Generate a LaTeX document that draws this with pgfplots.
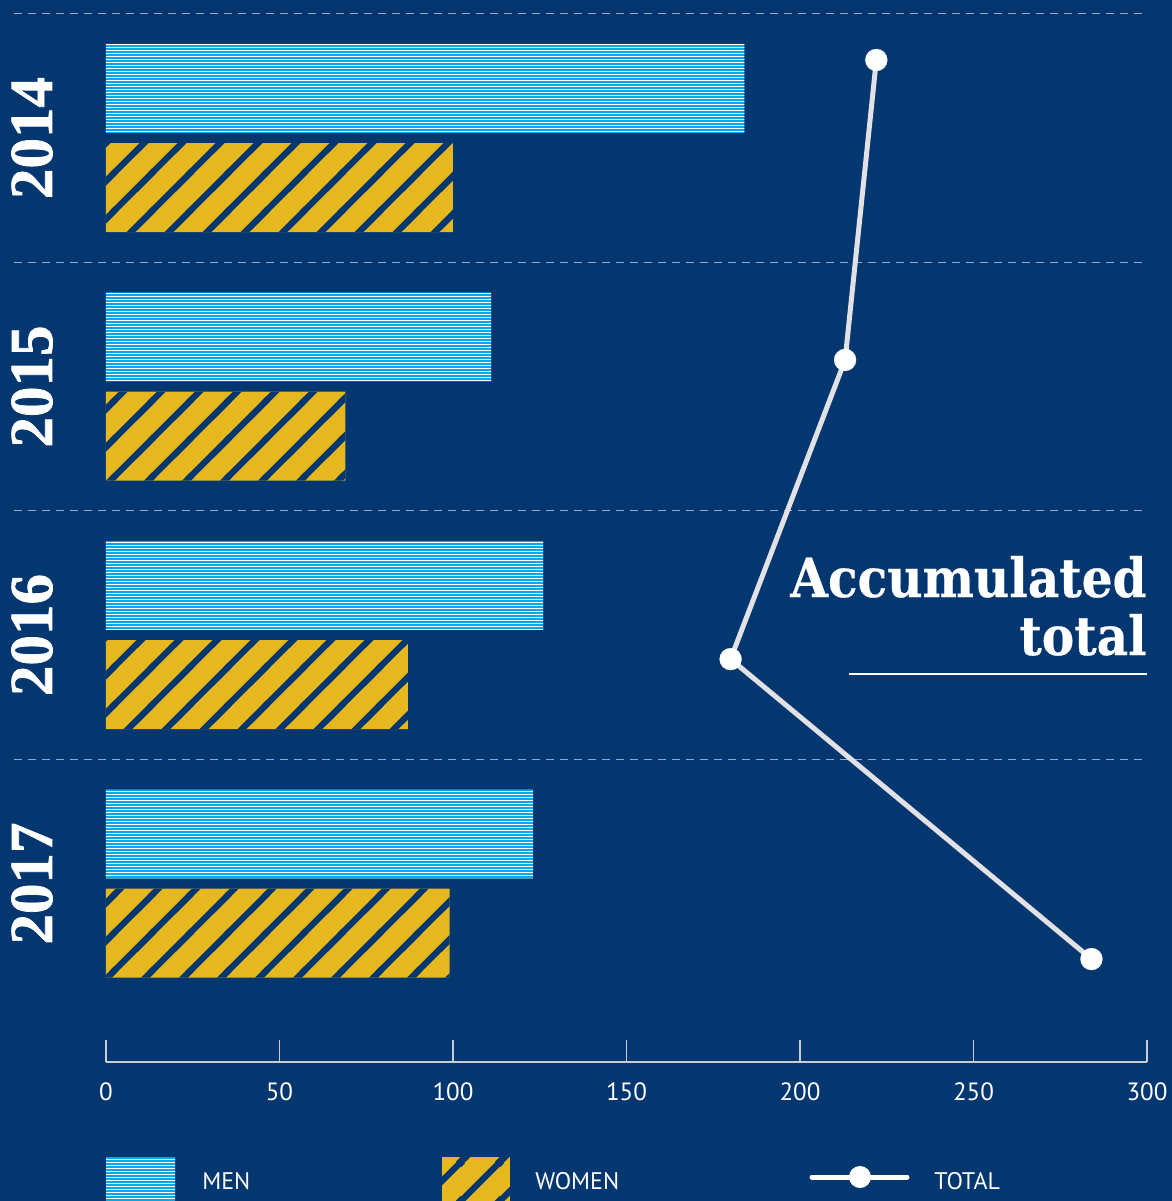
\documentclass[border=0pt]{standalone}
\usepackage{pgfplots}
\pgfplotsset{compat=1.18}
\usepackage{fontspec}
\setmainfont{PT Sans}
\newfontfamily\yearfont{Liberation Serif}[BoldFeatures={FakeBold=1.2}]
\newfontfamily\headfont{DejaVu Serif}[FakeStretch=0.9,BoldFeatures={FakeBold=0.4}]
\usetikzlibrary{patterns}

\definecolor{bgnavy}{RGB}{4,54,111}
\definecolor{mencyan}{RGB}{0,170,235}
\definecolor{womyellow}{RGB}{230,184,32}
\definecolor{linegray}{RGB}{226,226,230}
\definecolor{dashgray}{RGB}{150,170,200}
\definecolor{axisgray}{RGB}{200,205,215}

\pgfdeclarepatternformonly{menlines}{\pgfqpoint{0pt}{0pt}}{\pgfqpoint{2pt}{1.66pt}}{\pgfqpoint{2pt}{1.66pt}}{%
  \pgfpathrectangle{\pgfqpoint{-0.5pt}{0pt}}{\pgfqpoint{3pt}{0.5pt}}\pgfusepath{fill}}

\pgfdeclarepatternformonly{womenstripes}{\pgfqpoint{0pt}{0pt}}{\pgfqpoint{19.2pt}{19.2pt}}{\pgfqpoint{19.2pt}{19.2pt}}{%
  \pgfsetlinewidth{3.2pt}%
  \pgfpathmoveto{\pgfqpoint{-1pt}{-1pt}}\pgfpathlineto{\pgfqpoint{20.2pt}{20.2pt}}%
  \pgfpathmoveto{\pgfqpoint{-20.2pt}{-1pt}}\pgfpathlineto{\pgfqpoint{1pt}{20.2pt}}%
  \pgfpathmoveto{\pgfqpoint{18.2pt}{-1pt}}\pgfpathlineto{\pgfqpoint{39.4pt}{20.2pt}}%
  \pgfusepath{stroke}}

\begin{document}
\begin{tikzpicture}
\fill[bgnavy] (0,0) rectangle (586pt,-600.5pt);
\begin{axis}[
  at={(53pt,-531pt)}, anchor=south west,
  scale only axis, width=520.5pt, height=531pt,
  xmin=0, xmax=300, ymin=-0.5553, ymax=3.7183, y dir=reverse,
  axis x line*=bottom, axis y line*=left,
  y axis line style={draw=none},
  x axis line style={draw=axisgray, line width=0.7pt, -},
  xtick={0,50,...,300}, xtick align=inside, major tick length=11pt,
  xtick style={draw=axisgray, line width=0.7pt},
  ytick={0,1,2,3}, yticklabels={2014,2015,2016,2017},
  ytick style={draw=none},
  ticklabel style={white},
  xticklabel style={font=\fontsize{12.5}{14}\selectfont, yshift=-7pt},
  yticklabel style={font=\yearfont\bfseries\fontsize{30.5}{30.5}\selectfont, rotate=90, anchor=base},
  yticklabel shift=27pt,
  /pgf/number format/assume math mode=true,
  clip=false,
]
\foreach \yy in {-0.5,0.5,1.5,2.5}{
  \edef\temp{\noexpand\draw[dashgray, line width=0.5pt, dash pattern=on 4pt off 3pt] (axis cs:-26.5,\yy) -- (axis cs:300,\yy);}
  \temp
}
% Men
\addplot[xbar, bar width=0.358, bar shift=-0.2, draw=none, fill=mencyan,
  postaction={pattern=menlines, pattern color=white}]
  coordinates {(184,0) (111,1) (126,2) (123,3)};
% Women
\addplot[xbar, bar width=0.358, bar shift=0.2, draw=none, fill=womyellow,
  postaction={pattern=womenstripes, pattern color=bgnavy}]
  coordinates {(100,0) (69,1) (87,2) (99,3)};
% Total
\addplot[draw=linegray, line width=2.5pt, mark=*, mark size=5.5pt,
  mark options={solid, fill=white, draw=white, line width=0.1pt}]
  coordinates {(222,-0.314) (213,0.893) (180,2.097) (284,3.304)};
\end{axis}
% Annotation
\node[anchor=base east, inner sep=0, white, font=\headfont\bfseries\fontsize{27}{27}\selectfont] at (573.5pt,-298.5pt) {Accumulated};
\node[anchor=base east, inner sep=0, white, font=\headfont\bfseries\fontsize{27}{27}\selectfont] at (573.5pt,-327.5pt) {total};
\draw[white, line width=1pt] (424.5pt,-337pt) -- (573.5pt,-337pt);
% Legend
\fill[mencyan, postaction={pattern=menlines, pattern color=white}] (53pt,-578.5pt) rectangle (87.5pt,-601pt);
\node[anchor=west, inner sep=0, white, font=\fontsize{12}{14}\selectfont] at (101pt,-590.5pt) {MEN};
\fill[womyellow, postaction={pattern=womenstripes, pattern color=bgnavy}] (221pt,-578.5pt) rectangle (255pt,-601pt);
\node[anchor=west, inner sep=0, white, font=\fontsize{12}{14}\selectfont] at (267.5pt,-590.5pt) {WOMEN};
\draw[white, line width=2.5pt, line cap=round] (406pt,-588.5pt) -- (453.5pt,-588.5pt);
\fill[white] (430pt,-588.5pt) circle (5.5pt);
\node[anchor=west, inner sep=0, white, font=\fontsize{12}{14}\selectfont] at (467pt,-590.5pt) {TOTAL};
\pgfresetboundingbox
\useasboundingbox (0,0) rectangle (586pt,-600.5pt);
\end{tikzpicture}
\end{document}
